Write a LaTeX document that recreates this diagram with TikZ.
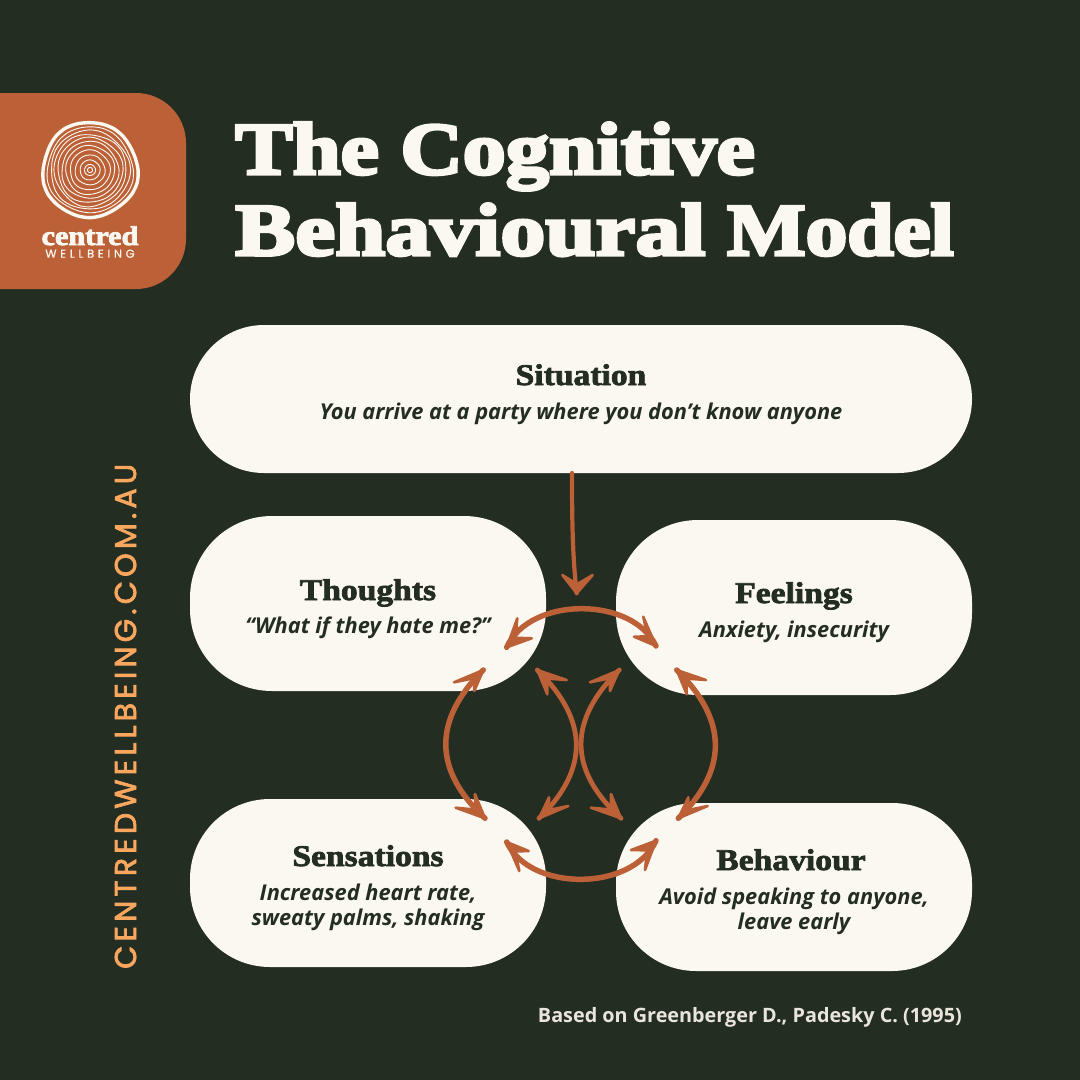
\documentclass[tikz,border=0pt]{standalone}
\usepackage{fontspec}
\usetikzlibrary{calc}
\setmainfont{Open Sans}
\newfontfamily\titlefont[FakeBold=4.5,FakeStretch=1.165]{Liberation Serif Bold}
\newfontfamily\titlewide[FakeBold=4.5,FakeStretch=1.217]{Liberation Serif Bold}
\newfontfamily\titlenarrow[FakeBold=4.5,FakeStretch=1.125]{Liberation Serif Bold}
\newfontfamily\logofont[FakeBold=3,FakeStretch=1.12]{Liberation Serif Bold}
\newfontfamily\headfont[FakeBold=2.5,FakeStretch=1.12]{Liberation Serif Bold}
\newfontfamily\bodyfont{Open Sans Bold Italic}
\newfontfamily\footfont{Open Sans Bold}
\newfontfamily\popfont[LetterSpace=14,FakeBold=2.5]{Poppins}
\newfontfamily\wellfont[LetterSpace=32,FakeBold=0.5]{Poppins}
\definecolor{bgc}{HTML}{242D22}
\definecolor{rust}{HTML}{BC6137}
\definecolor{creamc}{HTML}{FBF8F1}
\definecolor{peach}{HTML}{F9A65E}
\definecolor{footc}{HTML}{E9E5DB}
\tikzset{
  x=1pt,y=-1pt,
  pill/.style={fill=creamc,inner sep=0pt,outer sep=0pt,minimum width=356pt,anchor=north west},
  heading/.style={text=bgc,anchor=base,inner sep=0pt,font=\headfont\fontsize{30}{30}\selectfont},
  bodytext/.style={text=bgc,anchor=base,inner sep=0pt,align=center,font=\bodyfont\fontsize{21.8}{25.5}\selectfont},
  titletext/.style={text=creamc,anchor=base west,inner sep=0pt,font=\titlefont\fontsize{74}{74}\selectfont},
  link/.style={draw=rust,line width=5.5pt,line cap=round},
  thinlink/.style={draw=rust,line width=4.2pt,line cap=round},
  ring/.style={draw=creamc,line width=0.9pt},
}
\newcommand{\dart}[3]{%
  \filldraw[rust,line width=2.6pt,line join=round]
    (#1) -- (#2) -- ($(#1)!.5!($(#2)!.5!(#3)$)$) -- (#3) -- cycle;}
\begin{document}
\begin{tikzpicture}
\useasboundingbox (0,0) rectangle (1080,1080);
\fill[bgc] (0,0) rectangle (1080,1080);
% logo panel
\fill[rust] (0,93) -- (136,93) arc[start angle=90,end angle=0,x radius=50,y radius=-50] -- (186,239) arc[start angle=0,end angle=-90,x radius=50,y radius=-50] -- (0,289) -- cycle;
\foreach \r/\p in {2.5/0,5.5/40,10/80,15/20,20/70,24.5/110,28.5/30,32.5/90,36/150,39.5/60,43/10}{
  \draw[ring] plot[smooth cycle,domain=0:345,samples=24]
    ({90+(\r+\r*0.018*sin(3*\x+\p)+\r*0.014*sin(5*\x+2*\p))*cos(\x)},
     {170+(\r+\r*0.018*sin(3*\x+\p)+\r*0.014*sin(5*\x+2*\p))*sin(\x)});
}
\draw[creamc,line width=3.4pt] plot[smooth cycle,domain=0:345,samples=24]
    ({90+(47.5+0.7*sin(3*\x+40)+0.7*sin(5*\x+10))*cos(\x)},
     {170+(47.5+0.7*sin(3*\x+40)+0.7*sin(5*\x+10))*sin(\x)});
\node[text=creamc,anchor=base,inner sep=0pt,font=\logofont\fontsize{27}{27}\selectfont] (logoname) at (90,245) {centred};
\node[text=creamc,anchor=base,inner sep=0pt,font=\wellfont\fontsize{11.5}{12}\selectfont] (logosub) at (90,257.7) {WELLBEING};
% title
\node[titletext] (title1) at (235,174) {The Cognitive};
\node[titletext] (title2) at (235,255) {{\titlewide Behavioural} {\titlenarrow Model}};
% pills
\node[pill,minimum width=782pt,minimum height=148pt,rounded corners=74pt] (situation) at (190,325) {};
\node[pill,minimum height=175pt,rounded corners=82pt] (thoughts) at (190,516) {};
\node[pill,minimum height=175pt,rounded corners=82pt] (feelings) at (616,520) {};
\node[pill,minimum height=168pt,rounded corners=80pt] (sensations) at (190,799) {};
\node[pill,minimum height=168pt,rounded corners=80pt] (behaviour) at (616,803) {};
% texts
\node[heading] (h1) at (581,385) {Situation};
\node[bodytext] (b1) at (581,419) {You arrive at a party where you don’t know anyone};
\node[heading] (h2) at (368,600) {Thoughts};
\node[bodytext] (b2) at (368,633) {“What if they hate me?”};
\node[heading] (h3) at (794,603) {Feelings};
\node[bodytext] (b3) at (794,637) {Anxiety, insecurity};
\node[heading] (h4) at (368,866) {Sensations};
\node[bodytext] (b4) at (368,900) {Increased heart rate,};
\node[bodytext] (b4b) at (368,925) {sweaty palms, shaking};
\node[heading] (h5) at (791,870) {Behaviour};
\node[bodytext] (b5) at (794,904) {Avoid speaking to anyone,};
\node[bodytext] (b5b) at (794,929) {leave early};
\node[text=footc,anchor=base east,inner sep=0pt,font=\footfont\fontsize{19.8}{20}\selectfont] (credit) at (962,1022) {Based on Greenberger D., Padesky C. (1995)};
\node[text=peach,rotate=90,anchor=base west,inner sep=0pt,font=\popfont\fontsize{30}{30}\selectfont] (site) at (136,969) {CENTREDWELLBEING.COM.AU};
% connector endpoints
\coordinate (sitfoot) at (572,473);
\coordinate (t0) at (576.7,593.3);
\coordinate (a1) at (506.7,647.3); \coordinate (a2) at (656,646);
\coordinate (c1) at (506.7,842); \coordinate (c2) at (656,840.7);
\coordinate (l1) at (483.3,670); \coordinate (l2) at (485,818.3);
\coordinate (r1) at (676.7,670); \coordinate (r2) at (678.3,818.3);
\coordinate (m1) at (537.3,670); \coordinate (m2) at (539,818.3);
\coordinate (n1) at (619.3,670); \coordinate (n2) at (621,818.3);
% shafts
\path[thinlink] (sitfoot) .. controls (572,530) and (573,560) .. (t0);
\path[link] (a1) .. controls (530,596) and (632,596) .. (a2);
\path[link] (c1) .. controls (530,892) and (632,892) .. (c2);
\path[link] (l1) .. controls (433,720) and (433,770) .. (l2);
\path[link] (r1) .. controls (728,720) and (728,770) .. (r2);
\path[thinlink,line width=4.8pt] (m1) .. controls (589,720) and (589,770) .. (m2);
\path[thinlink,line width=4.8pt] (n1) .. controls (568,720) and (568,770) .. (n2);
% heads
\dart{t0}{562.3,575}{592.7,575}
\dart{a1}{517.3,618.3}{531.7,638.3}
\dart{a2}{643.3,616.7}{634,636.7}
\dart{c1}{519.3,871}{528.7,851}
\dart{c2}{645,870}{631,850}
\dart{l1}{454,682.3}{474.3,691}
\dart{l2}{455.7,807.7}{475,794}
\dart{r1}{706,680}{686.7,694.3}
\dart{r2}{707.7,806}{688.3,797.3}
\dart{m1}{566.7,680}{547.3,694.3}
\dart{m2}{568.3,806}{549,797.3}
\dart{n1}{590,682.3}{610,691}
\dart{n2}{591,807.7}{611,794}
\end{tikzpicture}
\end{document}
